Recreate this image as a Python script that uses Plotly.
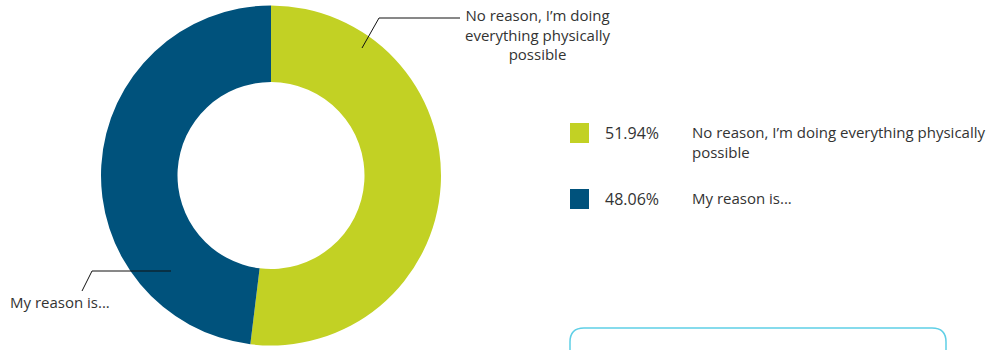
import plotly.graph_objects as go

# Survey answers and their shares (percent)
labels = ["No reason, I’m doing everything physically possible", "My reason is..."]
values = [51.94, 48.06]
colors = ["#c2d124", "#00527c"]
# Wrapped text used for the outside callouts and the legend rows
callout_text = ["No reason, I’m doing<br>everything physically<br>possible", "My reason is..."]
legend_text = ["No reason, I’m doing everything physically<br>possible", "My reason is..."]

W, H = 989, 350
FONT = "Open Sans"
TXT = "#333333"


def px(x, y):
    """Convert pixel position (from top-left) to paper coords."""
    return x / W, 1 - y / H


fig = go.Figure()

# Donut: centre (271, 175.5), outer radius ~170
cx, cy, r = 271, 175.5, 170
x0, y0 = px(cx - r, cy + r)
x1, y1 = px(cx + r, cy - r)
fig.add_trace(go.Pie(
    labels=labels,
    values=values,
    hole=0.55,
    sort=False,
    direction="clockwise",
    rotation=0,
    marker=dict(colors=colors, line=dict(width=0)),
    textinfo="none",
    hoverinfo="label+percent",
    showlegend=False,
    domain=dict(x=[x0, x1], y=[y0, y1]),
))

shapes = []
annotations = []

# Leader lines for the outside callouts
def polyline(points):
    for (ax, ay), (bx, by) in zip(points[:-1], points[1:]):
        a = px(ax, ay)
        b = px(bx, by)
        shapes.append(dict(type="line", xref="paper", yref="paper",
                           x0=a[0], y0=a[1], x1=b[0], y1=b[1],
                           line=dict(color="#111111", width=1)))

polyline([(362, 48), (379, 18), (460, 18)])
polyline([(171, 271), (92, 271), (82, 291)])

ax_, ay_ = px(537, 34)
annotations.append(dict(x=ax_, y=ay_, xref="paper", yref="paper", xanchor="center",
                        yanchor="middle", align="center", showarrow=False,
                        text=callout_text[0],
                        font=dict(family=FONT, size=15, color=TXT)))
ax_, ay_ = px(8, 302)
annotations.append(dict(x=ax_, y=ay_, xref="paper", yref="paper", xanchor="left",
                        yanchor="middle", align="left", showarrow=False,
                        text=callout_text[1],
                        font=dict(family=FONT, size=15, color=TXT)))

# Custom legend: swatch, percentage, label
row_y = [133, 199]
for i in range(len(values)):
    yc = row_y[i]
    a = px(570, yc - 10)
    b = px(589, yc + 10)
    shapes.append(dict(type="rect", xref="paper", yref="paper",
                       x0=a[0], y0=b[1], x1=b[0], y1=a[1],
                       fillcolor=colors[i], line=dict(width=0)))
    p = px(603, yc)
    annotations.append(dict(x=p[0], y=p[1], xref="paper", yref="paper",
                            xanchor="left", yanchor="middle", showarrow=False,
                            text=f"{values[i]:.2f}%",
                            font=dict(family=FONT, size=16, color=TXT)))
    q = px(690, yc - 13)
    annotations.append(dict(x=q[0], y=q[1], xref="paper", yref="paper",
                            xanchor="left", yanchor="top", align="left", showarrow=False,
                            text=legend_text[i],
                            font=dict(family=FONT, size=15, color=TXT)))

# Rounded note box along the bottom edge
bx0, by0 = 570, 328
bx1, by1 = 946, 380
rr = 14


def conv_path(x, y):
    a = px(x, y)
    return f"{a[0]:.6f} {a[1]:.6f}"


pts = [(bx0, by1), (bx0, by0 + rr), (bx0, by0), (bx0 + rr, by0), (bx1 - rr, by0),
       (bx1, by0), (bx1, by0 + rr), (bx1, by1)]
c = [conv_path(*p) for p in pts]
path = f"M {c[0]} L {c[1]} Q {c[2]} {c[3]} L {c[4]} Q {c[5]} {c[6]} L {c[7]}"
shapes.append(dict(type="path", xref="paper", yref="paper", path=path,
                   line=dict(color="#5fcfe6", width=1.5)))

fig.update_layout(
    width=W, height=H,
    margin=dict(l=0, r=0, t=0, b=0),
    paper_bgcolor="white",
    plot_bgcolor="white",
    shapes=shapes,
    annotations=annotations,
    font=dict(family=FONT, color=TXT),
)

fig.write_html("out.html", config={"displayModeBar": False})
